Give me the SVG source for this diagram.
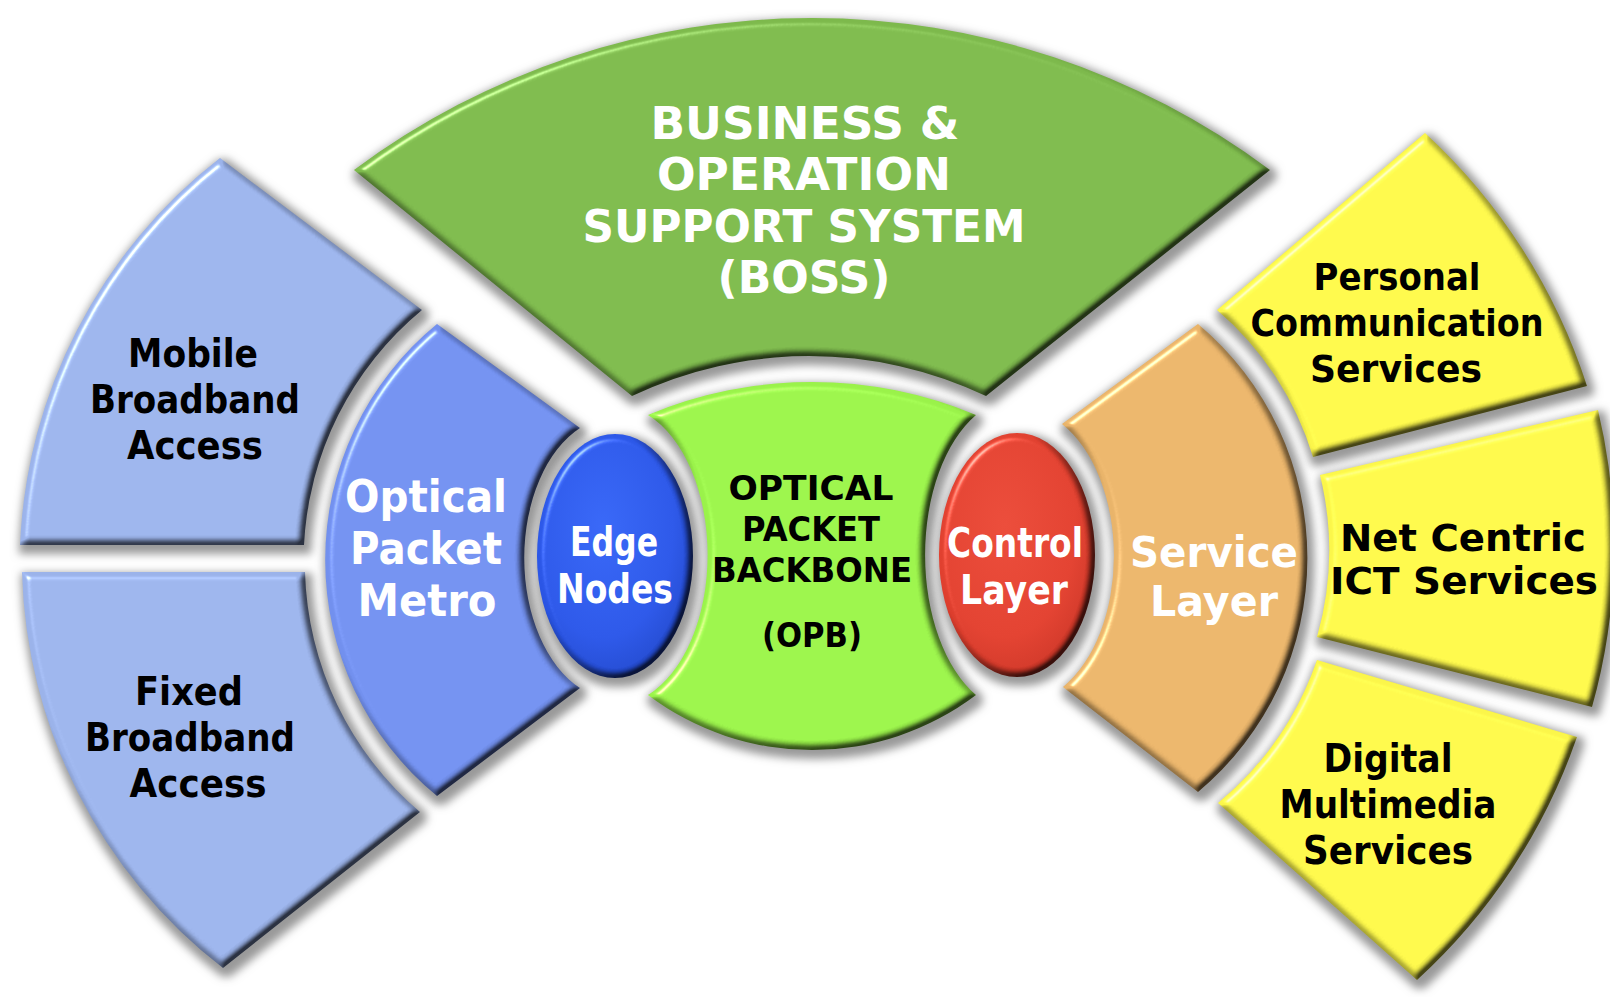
<svg xmlns="http://www.w3.org/2000/svg" width="1610" height="997" viewBox="0 0 1610 997">
  <defs>
    <style>
      .t { font-family: 'Comic Sans MS', 'DejaVu Sans', 'Liberation Sans', sans-serif; font-weight: 700; text-anchor: middle; }
      .w { fill: #ffffff; }
      .k { fill: #000000; }
      .bev { filter: url(#f3d); }
    </style>
    <filter id="f3d" x="-12%" y="-12%" width="128%" height="128%" color-interpolation-filters="sRGB">
      <feMorphology in="SourceAlpha" operator="dilate" radius="4" result="dil"/>
      <feGaussianBlur in="dil" stdDeviation="4.5" result="sh"/>
      <feOffset in="sh" dx="3" dy="5" result="sho"/>
      <feFlood flood-color="#333333" flood-opacity="0.5"/>
      <feComposite in2="sho" operator="in" result="shadow"/>
      <feGaussianBlur in="SourceAlpha" stdDeviation="3.5" result="b"/>
      <feDiffuseLighting in="b" surfaceScale="6" diffuseConstant="1.414" lighting-color="#ffffff" result="diff">
        <feDistantLight azimuth="225" elevation="45"/>
      </feDiffuseLighting>
      <feComposite in="diff" in2="SourceGraphic" operator="arithmetic" k1="0.72" k3="0.28" result="shaded"/>
      <feSpecularLighting in="b" surfaceScale="6" specularConstant="0.8" specularExponent="35" lighting-color="#ffffff" result="spec">
        <feDistantLight azimuth="225" elevation="40"/>
      </feSpecularLighting>
      <feComposite in="spec" in2="SourceAlpha" operator="in" result="specIn"/>
      <feComposite in="shaded" in2="specIn" operator="arithmetic" k2="1" k3="0.6" result="lit"/>
      <feMerge>
        <feMergeNode in="shadow"/>
        <feMergeNode in="lit"/>
      </feMerge>
    </filter>
    <radialGradient id="gEdge" cx="0.42" cy="0.38" r="0.65">
      <stop offset="0" stop-color="#3665f4"/>
      <stop offset="0.7" stop-color="#2b56e6"/>
      <stop offset="1" stop-color="#2148cc"/>
    </radialGradient>
    <radialGradient id="gCtrl" cx="0.42" cy="0.38" r="0.65">
      <stop offset="0" stop-color="#e84a38"/>
      <stop offset="0.7" stop-color="#e0402f"/>
      <stop offset="1" stop-color="#cc3526"/>
    </radialGradient>
  </defs>

  <rect width="1610" height="997" fill="#ffffff"/>

  <g id="boss">
    <path class="bev" fill="#7db94c" d="M354,170 A766,766 0 0 1 1270,170 L986,396 A412,412 0 0 0 632,396 Z"/>
    <text class="t w" font-size="44" x="805" y="139" textLength="309" lengthAdjust="spacingAndGlyphs">BUSINESS &amp;</text>
    <text class="t w" font-size="44" x="804" y="190" textLength="294" lengthAdjust="spacingAndGlyphs">OPERATION</text>
    <text class="t w" font-size="44" x="804" y="242" textLength="443" lengthAdjust="spacingAndGlyphs">SUPPORT SYSTEM</text>
    <text class="t w" font-size="44" x="804" y="293" textLength="173" lengthAdjust="spacingAndGlyphs">(BOSS)</text>
  </g>

  <g id="mobile-broadband-access">
    <path class="bev" fill="#9bb3ea" d="M220,158 L422,310 A326,326 0 0 0 304,545 L20,545 A518,518 0 0 1 220,158 Z"/>
    <text class="t k" font-size="39" x="193" y="367" textLength="130" lengthAdjust="spacingAndGlyphs">Mobile</text>
    <text class="t k" font-size="39" x="195" y="413" textLength="210" lengthAdjust="spacingAndGlyphs">Broadband</text>
    <text class="t k" font-size="39" x="195" y="459" textLength="136" lengthAdjust="spacingAndGlyphs">Access</text>
  </g>

  <g id="fixed-broadband-access">
    <path class="bev" fill="#9bb3ea" d="M22,572 L305,572 A327,327 0 0 0 420,812 L223,968 A518,518 0 0 1 22,572 Z"/>
    <text class="t k" font-size="39" x="189" y="705" textLength="108" lengthAdjust="spacingAndGlyphs">Fixed</text>
    <text class="t k" font-size="39" x="190" y="751" textLength="210" lengthAdjust="spacingAndGlyphs">Broadband</text>
    <text class="t k" font-size="39" x="198" y="797" textLength="137" lengthAdjust="spacingAndGlyphs">Access</text>
  </g>

  <g id="optical-packet-metro">
    <path class="bev" fill="#7290ee" d="M437,324 L580,428 A91,141 0 0 0 580,688 L437,796 A305,305 0 0 1 437,324 Z"/>
    <text class="t w" font-size="44" x="426" y="512" textLength="162" lengthAdjust="spacingAndGlyphs">Optical</text>
    <text class="t w" font-size="44" x="426" y="564" textLength="152" lengthAdjust="spacingAndGlyphs">Packet</text>
    <text class="t w" font-size="44" x="427" y="616" textLength="139" lengthAdjust="spacingAndGlyphs">Metro</text>
  </g>

  <g id="edge-nodes">
    <ellipse class="bev" fill="url(#gEdge)" cx="615" cy="556" rx="78" ry="122"/>
    <text class="t w" font-size="40" x="614" y="556" textLength="88" lengthAdjust="spacingAndGlyphs">Edge</text>
    <text class="t w" font-size="40" x="615" y="603" textLength="116" lengthAdjust="spacingAndGlyphs">Nodes</text>
  </g>

  <g id="optical-packet-backbone">
    <path class="bev" fill="#9af24a" d="M648,415 A424,424 0 0 1 976,415 A93,157 0 0 0 976,695 A272,272 0 0 1 648,695 A93,150 0 0 0 648,415 Z"/>
    <text class="t k" font-size="34" x="811" y="500" textLength="165" lengthAdjust="spacingAndGlyphs">OPTICAL</text>
    <text class="t k" font-size="34" x="811" y="541" textLength="138" lengthAdjust="spacingAndGlyphs">PACKET</text>
    <text class="t k" font-size="34" x="812" y="582" textLength="200" lengthAdjust="spacingAndGlyphs">BACKBONE</text>
    <text class="t k" font-size="34" x="812" y="647" textLength="100" lengthAdjust="spacingAndGlyphs">(OPB)</text>
  </g>

  <g id="control-layer">
    <ellipse class="bev" fill="url(#gCtrl)" cx="1017" cy="555" rx="78" ry="122"/>
    <text class="t w" font-size="40" x="1015" y="557" textLength="136" lengthAdjust="spacingAndGlyphs">Control</text>
    <text class="t w" font-size="40" x="1014" y="604" textLength="108" lengthAdjust="spacingAndGlyphs">Layer</text>
  </g>

  <g id="service-layer">
    <path class="bev" fill="#e9b46a" d="M1198,324 A305,305 0 0 1 1198,792 L1063,687 A95,148 0 0 0 1062,424 Z"/>
    <text class="t w" font-size="42" x="1214" y="567" textLength="168" lengthAdjust="spacingAndGlyphs">Service</text>
    <text class="t w" font-size="42" x="1214" y="616" textLength="128" lengthAdjust="spacingAndGlyphs">Layer</text>
  </g>

  <g id="personal-communication-services">
    <path class="bev" fill="#fbf64a" d="M1217,310 L1425,133 A590,590 0 0 1 1587,386 L1313,457 A312,312 0 0 0 1217,310 Z"/>
    <text class="t k" font-size="38" x="1397" y="290" textLength="167" lengthAdjust="spacingAndGlyphs">Personal</text>
    <text class="t k" font-size="38" x="1397" y="336" textLength="293" lengthAdjust="spacingAndGlyphs">Communication</text>
    <text class="t k" font-size="38" x="1396" y="382" textLength="172" lengthAdjust="spacingAndGlyphs">Services</text>
  </g>

  <g id="net-centric-ict-services">
    <path class="bev" fill="#fbf64a" d="M1320,475 L1598,410 A590,590 0 0 1 1592,707 L1317,637 A316,316 0 0 0 1320,475 Z"/>
    <text class="t k" font-size="36.5" x="1463" y="551" textLength="246" lengthAdjust="spacingAndGlyphs">Net Centric</text>
    <text class="t k" font-size="36.5" x="1464" y="594" textLength="268" lengthAdjust="spacingAndGlyphs">ICT Services</text>
  </g>

  <g id="digital-multimedia-services">
    <path class="bev" fill="#fbf64a" d="M1317,660 L1577,737 A590,590 0 0 1 1417,980 L1218,803 A322,322 0 0 0 1317,660 Z"/>
    <text class="t k" font-size="39" x="1388" y="772" textLength="129" lengthAdjust="spacingAndGlyphs">Digital</text>
    <text class="t k" font-size="39" x="1388" y="818" textLength="217" lengthAdjust="spacingAndGlyphs">Multimedia</text>
    <text class="t k" font-size="39" x="1388" y="864" textLength="170" lengthAdjust="spacingAndGlyphs">Services</text>
  </g>

  <g id="connectors"/>
</svg>
